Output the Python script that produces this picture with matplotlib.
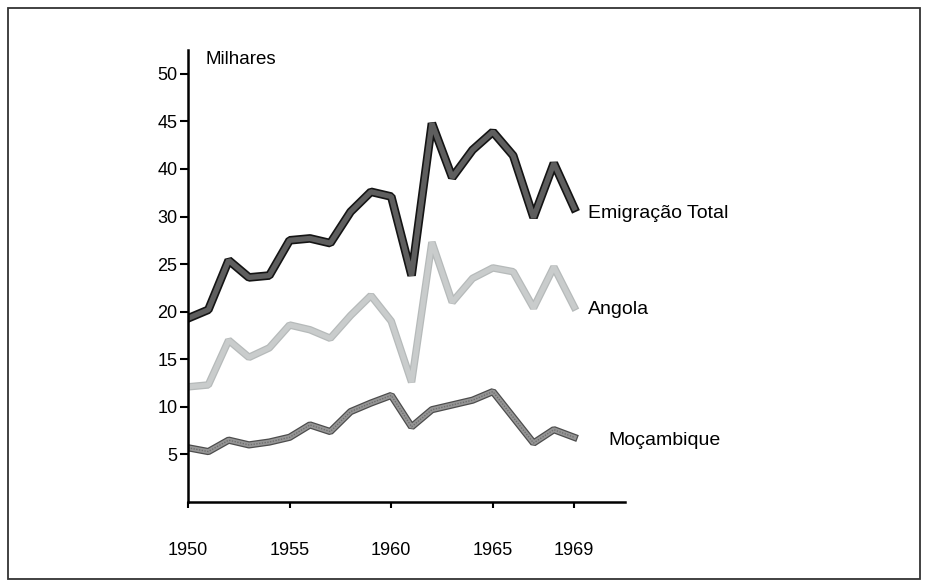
import numpy as np
import matplotlib.pyplot as plt
from matplotlib.patches import Rectangle

plt.rcParams['font.family'] = ['Liberation Sans', 'DejaVu Sans']

anos = list(range(1950, 1970))

# milhares (na escala linear do eixo)
total = [19.3, 20.2, 25.4, 23.6, 23.8, 27.5, 27.7, 27.2, 30.5, 32.6,
         32.1, 23.8, 39.8, 34.1, 37.0, 38.9, 36.4, 29.9, 35.6, 30.9]
angola = [12.1, 12.3, 17.0, 15.2, 16.2, 18.6, 18.1, 17.2, 19.6, 21.7,
          19.0, 12.6, 27.3, 21.0, 23.5, 24.6, 24.2, 20.4, 24.7, 20.5]
mocambique = [5.7, 5.3, 6.5, 6.0, 6.3, 6.8, 8.1, 7.4, 9.5, 10.4,
              11.2, 7.9, 9.7, 10.2, 10.7, 11.6, 8.9, 6.2, 7.6, 6.8]

y_ticks = [5, 10, 15, 20, 25, 30, 35, 40, 45]
y_labels = ['5', '10', '15', '20', '25', '30', '40', '45', '50']
x_ticks = [1950, 1955, 1960, 1965, 1969]

fig = plt.figure(figsize=(9.26, 5.84), dpi=100)
ax = fig.add_axes([188/926, 1-502/584, (625-188)/926, (502-50)/584])

# Emigracao total: contorno preto, interior cinzento escuro
ax.plot(anos, total, color='#141414', lw=6.2, solid_joinstyle='bevel')
ax.plot(anos, total, color='#5e5e5e', lw=3.8, solid_joinstyle='bevel')
# Angola: cinzento claro
ax.plot(anos, angola, color='#b6baba', lw=5.4, solid_joinstyle='bevel')
ax.plot(anos, angola, color='#c9cccc', lw=3.6, solid_joinstyle='bevel')
# Mocambique: cinzento medio, textura
ax.plot(anos, mocambique, color='#4d4d4d', lw=5.2, solid_joinstyle='bevel')
ax.plot(anos, mocambique, color='#959595', lw=3.4, solid_joinstyle='bevel')
ax.plot(anos, mocambique, color='#6f6f6f', lw=1.0, ls=(0, (1, 1)), solid_joinstyle='bevel')

ax.text(1969.7, 30.3, 'Emigração Total', fontsize=14, va='center', ha='left', clip_on=False)
ax.text(1969.7, 20.2, 'Angola', fontsize=14, va='center', ha='left', clip_on=False)
ax.text(1970.7, 6.5, 'Moçambique', fontsize=14, va='center', ha='left', clip_on=False)
ax.text(1950.85, 46.5, 'Milhares', fontsize=13.5, va='center', ha='left', clip_on=False)

ax.set_xlim(1950, 1971.5)
ax.set_ylim(0, 47.5)
ax.set_yticks(y_ticks)
ax.set_yticklabels(y_labels)
ax.set_xticks(x_ticks)
ax.set_xticklabels([str(a) for a in x_ticks])
ax.tick_params(axis='y', direction='out', length=6, width=1.5, pad=1.5, labelsize=13)
ax.tick_params(axis='x', direction='out', length=4.5, width=1.5, pad=24, labelsize=13)
ax.spines['top'].set_visible(False)
ax.spines['right'].set_visible(False)
ax.spines['left'].set_linewidth(1.8)
ax.spines['bottom'].set_linewidth(1.8)

# moldura da figura
fig.add_artist(Rectangle((8/926, 1-579/584), (920-8)/926, (579-8)/584,
                         transform=fig.transFigure, fill=False, lw=1.3, ec='#333333'))

fig.savefig('out.png', dpi=100)
